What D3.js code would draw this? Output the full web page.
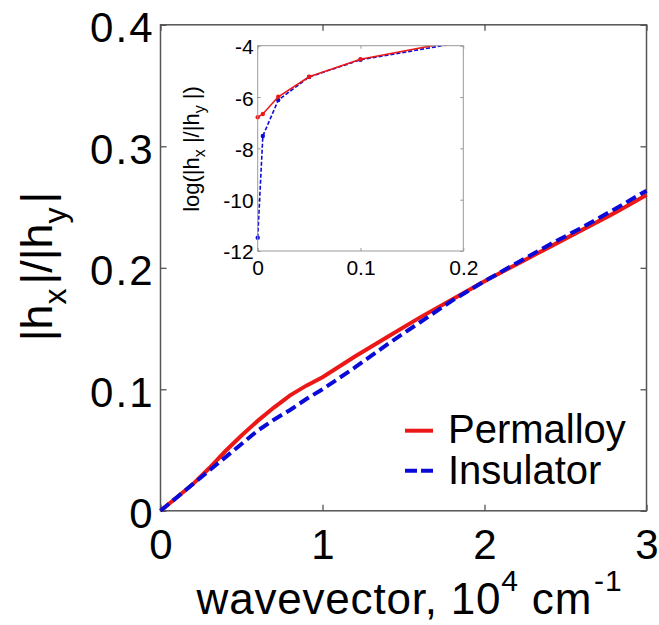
<!DOCTYPE html>
<html><head><meta charset="utf-8">
<script src="https://cdn.jsdelivr.net/npm/d3@7"></script>
<style>
body{margin:0;background:#fff;}
svg{display:block;font-family:"Liberation Sans",Arial,Helvetica,sans-serif;}
</style></head>
<body><svg id="chart" width="659" height="625"></svg>
<script>
// ---- data ----
const wavevector = [0,0.1,0.2,0.3,0.4,0.5,0.6,0.7,0.8,0.9,1.0,1.2,1.4,1.6,1.8,2.0,2.2,2.4,2.6,2.8,3.0];
const permalloy  = [0,0.011,0.022,0.035,0.049,0.062,0.074,0.085,0.095,0.103,0.110,0.127,0.143,0.159,0.174,0.189,0.203,0.217,0.231,0.245,0.260];
const insulator  = [0,0.011,0.022,0.033,0.044,0.055,0.066,0.075,0.083,0.092,0.100,0.118,0.137,0.155,0.173,0.189,0.204,0.219,0.233,0.248,0.2635];
const insetK       = [0,0.005,0.02,0.05,0.1,0.2];
const insetPermalloy = [-6.79,-6.66,-5.99,-5.21,-4.53,-3.77];
const insetInsulator = [-11.48,-7.52,-6.12,-5.22,-4.55,-3.86];
const xTicks = [0,1,2,3];
const xTickLabels = ["0","1","2","3"];
const yTicks = [0,0.1,0.2,0.3,0.4];
const yTickLabels = ["0","0.1","0.2","0.3","0.4"];
const insetXTicks = [0,0.1,0.2];
const insetXTickLabels = ["0","0.1","0.2"];
const insetYTicks = [-12,-10,-8,-6,-4];
const insetYTickLabels = ["-12","-10","-8","-6","-4"];
const seriesNames = ["Permalloy","Insulator"];

// ---- layout ----
const svg = d3.select("#chart");
const RED = "#ec1818", BLUE = "#0a0ad8";
const x = d3.scaleLinear().domain([0,3]).range([160.5,646.5]);
const y = d3.scaleLinear().domain([0,0.4]).range([510.8,24.8]);
const ix = d3.scaleLinear().domain([0,0.2]).range([257.7,463.3]);
const iy = d3.scaleLinear().domain([-12,-4]).range([251,45.7]);

svg.append("rect").attr("width",659).attr("height",625).attr("fill","#fff");

function styleAxis(g, fs){
  g.select(".domain").remove();
  g.selectAll(".tick line").attr("stroke","#444").attr("stroke-width",1.2);
  g.selectAll(".tick text").attr("fill","#000").attr("font-size",fs).attr("font-family","Liberation Sans, Arial, sans-serif");
}
const gx = svg.append("g").attr("transform",`translate(0,${y(0)})`)
  .call(d3.axisBottom(x).tickValues(xTicks).tickFormat((d,i)=>xTickLabels[i]).tickSize(-6).tickPadding(20));
styleAxis(gx,42); gx.selectAll(".tick text").attr("dy","0.68em");
const gy = svg.append("g").attr("transform",`translate(${x(0)},0)`)
  .call(d3.axisLeft(y).tickValues(yTicks).tickFormat((d,i)=>yTickLabels[i]).tickSize(-6).tickPadding(6));
styleAxis(gy,42); gy.selectAll(".tick text").attr("dy","0.40em").attr("letter-spacing",2);
const gxt = svg.append("g").attr("transform",`translate(0,${y(0.4)})`)
  .call(d3.axisTop(x).tickValues(xTicks).tickFormat("").tickSize(-6));
styleAxis(gxt,10);
const gyr = svg.append("g").attr("transform",`translate(${x(3)},0)`)
  .call(d3.axisRight(y).tickValues(yTicks).tickFormat("").tickSize(-6));
styleAxis(gyr,10);
svg.append("rect").attr("x",x(0)).attr("y",y(0.4)).attr("width",x(3)-x(0)).attr("height",y(0)-y(0.4))
  .attr("fill","none").attr("stroke","#555").attr("stroke-width",1.5);

// main lines
const line = d3.line().x((d,i)=>x(wavevector[i])).y(d=>y(d));
svg.append("path").datum(permalloy).attr("d",line).attr("fill","none").attr("stroke",RED).attr("stroke-width",4);
svg.append("path").datum(insulator).attr("d",line).attr("fill","none").attr("stroke",BLUE).attr("stroke-width",4).attr("stroke-dasharray","11,5");

// axis labels
const xl = svg.append("text").attr("x",409.5).attr("y",614).attr("text-anchor","middle").attr("font-size",44).attr("letter-spacing",0.8).attr("fill","#000");
xl.append("tspan").text("wavevector, 10");
xl.append("tspan").attr("font-size",30).attr("dy",-23).text("4");
xl.append("tspan").attr("dy",23).text(" cm");
xl.append("tspan").attr("font-size",30).attr("dy",-23).attr("dx",2).text("-1");

const yl = svg.append("text").attr("transform",`translate(52,266.5) rotate(-90)`).attr("text-anchor","middle").attr("font-size",45).attr("fill","#000");
yl.append("tspan").text("|h");
yl.append("tspan").attr("font-size",32).attr("dy",14).text("x");
yl.append("tspan").attr("dy",-14).attr("dx",4).text("|/|h");
yl.append("tspan").attr("font-size",32).attr("dy",14).text("y");
yl.append("tspan").attr("dy",-14).attr("dx",4).text("|");

// legend
const leg = svg.append("g");
leg.append("line").attr("x1",405).attr("x2",433).attr("y1",430.7).attr("y2",430.7).attr("stroke",RED).attr("stroke-width",4);
leg.append("line").attr("x1",405).attr("x2",433).attr("y1",470.7).attr("y2",470.7).attr("stroke",BLUE).attr("stroke-width",4).attr("stroke-dasharray","12,4");
leg.append("text").attr("x",448).attr("y",443.3).attr("font-size",40).text(seriesNames[0]);
leg.append("text").attr("x",448).attr("y",484).attr("font-size",40).text(seriesNames[1]);

// inset
svg.append("rect").attr("x",ix(0)).attr("y",iy(-4)).attr("width",ix(0.2)-ix(0)).attr("height",iy(-12)-iy(-4)).attr("fill","#fff");
const igx = svg.append("g").attr("transform",`translate(0,${iy(-12)})`)
  .call(d3.axisBottom(ix).tickValues(insetXTicks).tickFormat((d,i)=>insetXTickLabels[i]).tickSize(-3).tickPadding(9));
styleAxis(igx,21); igx.selectAll(".tick line").attr("stroke","#999").attr("stroke-width",1);
const igy = svg.append("g").attr("transform",`translate(${ix(0)},0)`)
  .call(d3.axisLeft(iy).tickValues(insetYTicks).tickFormat((d,i)=>insetYTickLabels[i]).tickSize(-3).tickPadding(4));
styleAxis(igy,21); igy.selectAll(".tick text").attr("dy","0.38em");
igy.selectAll(".tick line").attr("stroke","#999").attr("stroke-width",1);
const igyr = svg.append("g").attr("transform",`translate(${ix(0.2)},0)`)
  .call(d3.axisRight(iy).tickValues(insetYTicks).tickFormat("").tickSize(-3));
styleAxis(igyr,10); igyr.selectAll(".tick line").attr("stroke","#999").attr("stroke-width",1);
const igxt = svg.append("g").attr("transform",`translate(0,${iy(-4)})`)
  .call(d3.axisTop(ix).tickValues(insetXTicks).tickFormat("").tickSize(-3));
styleAxis(igxt,10); igxt.selectAll(".tick line").attr("stroke","#999").attr("stroke-width",1);

svg.append("defs").append("clipPath").attr("id","iclip").append("rect")
  .attr("x",ix(0)-4).attr("y",iy(-4)).attr("width",ix(0.2)-ix(0)+8).attr("height",iy(-12)-iy(-4)+4);
const ig = svg.append("g").attr("clip-path","url(#iclip)");
const iline = d3.line().x((d,i)=>ix(insetK[i])).y(d=>iy(d));
ig.append("path").datum(insetInsulator).attr("d",iline).attr("fill","none").attr("stroke",BLUE).attr("stroke-width",1.6).attr("stroke-dasharray","4,2");
ig.selectAll("circle.b").data(insetInsulator).join("circle").attr("class","b")
  .attr("cx",(d,i)=>ix(insetK[i])).attr("cy",d=>iy(d)).attr("r",2.2).attr("fill",BLUE);
ig.append("path").datum(insetPermalloy).attr("d",iline).attr("fill","none").attr("stroke",RED).attr("stroke-width",1.6);
ig.selectAll("circle.r").data(insetPermalloy).join("circle").attr("class","r")
  .attr("cx",(d,i)=>ix(insetK[i])).attr("cy",d=>iy(d)).attr("r",2.2).attr("fill",RED);
svg.append("rect").attr("x",ix(0)).attr("y",iy(-4)).attr("width",ix(0.2)-ix(0)).attr("height",iy(-12)-iy(-4))
  .attr("fill","none").attr("stroke","#999").attr("stroke-width",1);

const il = svg.append("text").attr("transform",`translate(199,149) rotate(-90)`).attr("text-anchor","middle").attr("font-size",22).attr("fill","#000");
il.append("tspan").text("log(|h");
il.append("tspan").attr("font-size",16).attr("dy",6).text("x");
il.append("tspan").attr("dy",-6).text(" |/|h");
il.append("tspan").attr("font-size",16).attr("dy",6).text("y");
il.append("tspan").attr("dy",-6).text(" |)");
</script></body></html>
